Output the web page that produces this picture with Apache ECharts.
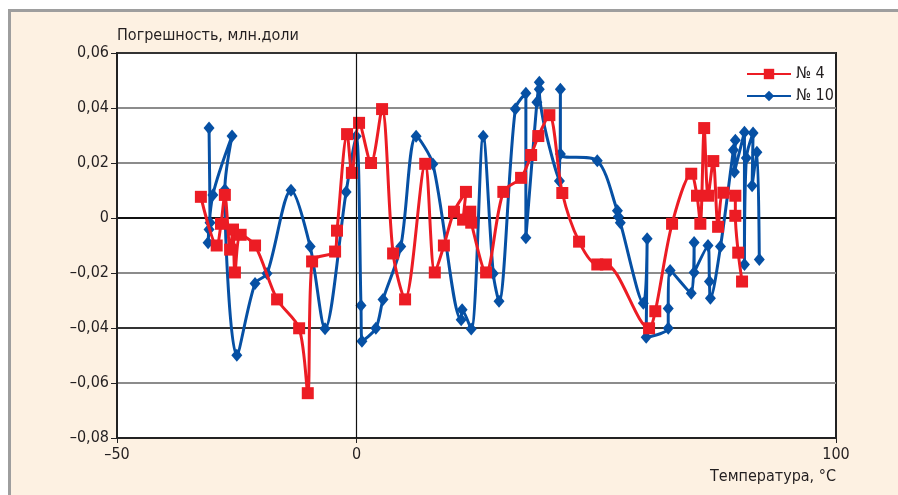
<!DOCTYPE html>
<html>
<head>
<meta charset="utf-8">
<script src="https://cdn.jsdelivr.net/npm/echarts@6/dist/echarts.min.js"></script>
<style>
  html, body { margin: 0; padding: 0; background: #fff; }
  .wrap { position: relative; width: 898px; height: 495px; overflow: hidden; }
  .panel {
    position: absolute; left: 8px; top: 9px; right: 0; bottom: 0;
    background: #fdf1e2;
    border-top: 3px solid #9e9e9e;
    border-left: 3px solid #9e9e9e;
  }
  #chart { position: absolute; left: 0; top: 0; width: 898px; height: 495px; }
</style>
</head>
<body>
<div class="wrap">
  <div class="panel"></div>
  <div id="chart"></div>
</div>
<script>
  // № 4 — temperature (°C) and error (ppm), in measurement order
  var tempNo4 = [-32.5, -29.2, -28.3, -27.5, -26.4, -25.8, -25.4, -24.2, -21.2, -16.6,
    -12.0, -10.2, -9.3, -4.5, -4.1, -2.0, -1.0, 0.5, 3.0, 5.3,
    7.6, 10.1, 14.3, 16.3, 18.2, 20.3, 22.8, 22.2, 23.7, 23.9,
    27.0, 30.6, 34.3, 36.4, 37.9, 40.2, 42.9, 46.4, 50.2, 52.0,
    61.0, 62.3, 65.8, 69.8, 71.0, 71.7, 72.5, 73.3, 74.4, 75.4,
    76.5, 79.0, 79.0, 79.6, 80.4];
  var errNo4 = [0.0077, -0.0100, -0.0021, 0.0084, -0.0115, -0.0042, -0.0198, -0.0061, -0.0100, -0.0296,
    -0.0401, -0.0637, -0.0158, -0.0122, -0.0046, 0.0305, 0.0164, 0.0346, 0.0200, 0.0396,
    -0.0129, -0.0296, 0.0197, -0.0198, -0.0100, 0.0023, 0.0095, -0.0006, 0.0023, -0.0017,
    -0.0198, 0.0095, 0.0146, 0.0229, 0.0298, 0.0374, 0.0091, -0.0086, -0.0169, -0.0169,
    -0.0401, -0.0339, -0.0021, 0.0161, 0.0081, -0.0021, 0.0327, 0.0081, 0.0207, -0.0032,
    0.0092, 0.0081, 0.0008, -0.0126, -0.0231];

  // № 10
  var tempNo10 = [-30.8, -30.6, -30.8, -31.0, -30.0, -26.0, -27.5, -25.0, -21.2, -18.7,
    -13.7, -9.7, -6.6, -2.2, -0.1, 0.9, 1.1, 4.0, 5.5, 9.2,
    12.4, 15.9, 21.8, 22.0, 23.9, 26.4, 28.5, 29.7, 33.1, 35.3,
    35.3, 37.6, 38.1, 38.1, 42.3, 42.5, 42.5, 50.2, 54.4, 54.6,
    55.0, 59.8, 60.6, 60.4, 65.0, 65.0, 65.4, 69.8, 70.4, 70.4,
    73.3, 73.6, 73.8, 75.9, 78.6, 79.0, 78.8, 80.9, 80.9, 81.3,
    82.7, 82.5, 83.5, 84.0];
  var errNo10 = [0.0327, -0.0017, -0.0042, -0.0090, 0.0084, 0.0298, 0.0103, -0.0499, -0.0238, -0.0202,
    0.0101, -0.0104, -0.0403, 0.0095, 0.0297, -0.0318, -0.0448, -0.0401, -0.0296, -0.0104,
    0.0297, 0.0196, -0.0370, -0.0334, -0.0404, 0.0297, -0.0202, -0.0303, 0.0396, 0.0454,
    -0.0072, 0.0421, 0.0494, 0.0468, 0.0135, 0.0468, 0.0233, 0.0208, 0.0026, 0.0005,
    -0.0017, -0.0310, -0.0075, -0.0434, -0.0401, -0.0329, -0.0191, -0.0274, -0.0089, -0.0198,
    -0.0100, -0.0231, -0.0292, -0.0104, 0.0247, 0.0283, 0.0167, 0.0312, -0.0169, 0.0218,
    0.0309, 0.0117, 0.0239, -0.0151];

  var xLabels = [-50, 0, 100];

  function zip(a, b) {
    var out = [];
    for (var i = 0; i < a.length; i++) out.push([a[i], b[i]]);
    return out;
  }
  function ruNum(v, digits) {
    if (v === 0) return '0';
    var s = Math.abs(v).toFixed(digits).replace('.', ',');
    return v < 0 ? '\u2013' + s : s;
  }

  var font = "'DejaVu Sans Condensed', 'Liberation Sans Narrow', sans-serif";
  var txt = '#231f20';
  var red = '#ec1c24';
  var blue = '#0650a4';

  var chart = echarts.init(document.getElementById('chart'));
  var option = {
    animation: false,
    textStyle: { fontFamily: font },
    grid: {
      left: 117, top: 53, right: 62, bottom: 57,
      show: true, backgroundColor: '#fff', borderColor: '#222', borderWidth: 2
    },
    legend: {
      data: ['№ 4', '№ 10'],
      orient: 'vertical',
      left: 741, top: 61,
      itemWidth: 44, itemHeight: 13, itemGap: 6,
      textStyle: { fontFamily: font, fontSize: 16, color: txt }
    },
    xAxis: {
      type: 'value',
      min: -50, max: 100, interval: 50,
      name: 'Температура, °C',
      nameLocation: 'end',
      nameGap: 0,
      nameTextStyle: { fontFamily: font, fontSize: 16, color: txt, align: 'right', verticalAlign: 'top', padding: [31, 0, 0, 0] },
      axisLine: { onZero: false, lineStyle: { color: '#222', width: 2 } },
      axisTick: { show: true, length: 5, customValues: xLabels, lineStyle: { color: '#222' } },
      axisLabel: {
        customValues: xLabels,
        fontFamily: font, fontSize: 16, color: txt, margin: 9,
        formatter: function (v) { return ruNum(v, 0); }
      },
      splitLine: { show: false }
    },
    yAxis: {
      type: 'value',
      min: -0.08, max: 0.06, interval: 0.02,
      name: 'Погрешность, млн.доли',
      nameLocation: 'end',
      nameGap: 9,
      nameTextStyle: { fontFamily: font, fontSize: 16, color: txt, align: 'left' },
      axisLine: { show: true, onZero: false, lineStyle: { color: '#222', width: 2 } },
      axisTick: { show: true, length: 6, lineStyle: { color: '#222' } },
      axisLabel: {
        fontFamily: font, fontSize: 16, color: txt, margin: 8,
        formatter: function (v) { return ruNum(v, 2); }
      },
      splitLine: {
        show: true,
        lineStyle: { color: ['#333', '#8c8c8c', '#333', '#8c8c8c', '#111', '#8c8c8c', '#8c8c8c', '#333'], width: 2 }
      }
    },
    series: [
      {
        type: 'line', data: [], z: 1, silent: true,
        markLine: {
          silent: true, symbol: 'none', animation: false,
          label: { show: false },
          lineStyle: { color: '#111', type: 'solid', width: 1.2 },
          data: [{ xAxis: 0 }]
        }
      },
      {
        name: '№ 10', type: 'line', z: 3,
        data: zip(tempNo10, errNo10),
        smooth: 0.3,
        symbol: 'diamond', symbolSize: [11, 13],
        lineStyle: { color: blue, width: 3 },
        itemStyle: { color: blue }
      },
      {
        name: '№ 4', type: 'line', z: 4,
        data: zip(tempNo4, errNo4),
        smooth: 0.3,
        symbol: 'rect', symbolSize: 12,
        lineStyle: { color: red, width: 3 },
        itemStyle: { color: red }
      }
    ]
  };
  chart.setOption(option);
</script>
</body>
</html>
